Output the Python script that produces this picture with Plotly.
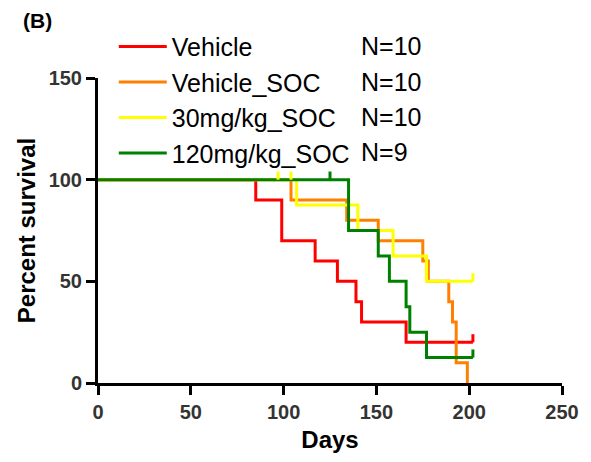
import plotly.graph_objects as go

# ---- data ----
groups = ["Vehicle", "Vehicle_SOC", "30mg/kg_SOC", "120mg/kg_SOC"]
n_counts = [10, 10, 10, 9]
colors = ["#FF0000", "#FF8000", "#FFFF00", "#008000"]

vehicle_days = [0, 85, 99, 117, 129, 139, 142, 166, 202]
vehicle_surv = [100, 90, 70, 60, 50, 40, 30, 20, 20]
vehicle_cens_days = [202]
vehicle_cens_surv = [20]

vsoc_days = [0, 104, 134, 151, 175, 178, 189, 191, 193, 199]
vsoc_surv = [100, 90, 80, 70, 60, 50, 40, 30, 10, 0]
vsoc_cens_days = []
vsoc_cens_surv = []

soc30_days = [0, 107, 140, 159, 177, 202]
soc30_surv = [100, 87.5, 75, 62.5, 50, 50]
soc30_cens_days = [97, 104, 202]
soc30_cens_surv = [100, 100, 50]

soc120_days = [0, 135, 151, 157, 166, 168, 177, 202]
soc120_surv = [100, 75, 62.5, 50, 37.5, 25, 12.5, 12.5]
soc120_cens_days = [125, 202]
soc120_cens_surv = [100, 12.5]

x_ticks = [0, 50, 100, 150, 200, 250]
y_ticks = [0, 50, 100, 150]

series = [
    (vehicle_days, vehicle_surv, vehicle_cens_days, vehicle_cens_surv),
    (vsoc_days, vsoc_surv, vsoc_cens_days, vsoc_cens_surv),
    (soc30_days, soc30_surv, soc30_cens_days, soc30_cens_surv),
    (soc120_days, soc120_surv, soc120_cens_days, soc120_cens_surv),
]

FONT = "Liberation Sans, Arial, sans-serif"
LW = 3
CENSOR_LEN = 4  # length of the censor tick, in percent units

fig = go.Figure()
for i, (name, color, (d, s, cd, cs)) in enumerate(zip(groups, colors, series)):
    fig.add_trace(go.Scatter(
        x=d, y=s, mode="lines", name=name,
        line=dict(color=color, width=LW, shape="hv"),
        legendgroup=f"g{i}", cliponaxis=False,
    ))
for i, (name, color, (d, s, cd, cs)) in enumerate(zip(groups, colors, series)):
    if cd:
        fig.add_trace(go.Scatter(
            x=cd, y=cs, mode="markers", showlegend=False,
            marker=dict(size=0.1, color="rgba(0,0,0,0)"),
            error_y=dict(type="constant", value=CENSOR_LEN, valueminus=0,
                         symmetric=False, thickness=LW, width=0, color=color),
            legendgroup=f"g{i}", cliponaxis=False,
        ))

# N= column next to the legend (paper coords)
legend_rows_y = [1.104, 0.987, 0.873, 0.756]
for n, yy in zip(n_counts, legend_rows_y):
    fig.add_annotation(text=f"N={n}", xref="paper", yref="paper",
                       x=0.563, y=yy, xanchor="left", yanchor="middle",
                       showarrow=False, font=dict(family=FONT, size=25, color="black"))

fig.add_annotation(text="(B)", xref="paper", yref="paper", x=-0.165, y=1.187,
                   xanchor="left", yanchor="middle", showarrow=False,
                   font=dict(family=FONT, size=21, color="black", weight="bold"))

axis_common = dict(
    showline=True, linecolor="black", linewidth=3,
    ticks="outside", ticklen=9, tickwidth=3, tickcolor="black",
    showgrid=False, zeroline=False,
    tickfont=dict(family=FONT, size=20, color="#333333", weight="bold"),
)
fig.update_xaxes(range=[0, 250], tickvals=x_ticks,
                 title=dict(text="Days", standoff=10,
                            font=dict(family=FONT, size=24, color="black", weight="bold")),
                 **axis_common)
fig.update_yaxes(range=[0, 150], tickvals=y_ticks,
                 title=dict(text="Percent survival", standoff=7,
                            font=dict(family=FONT, size=24, color="black", weight="bold")),
                 **axis_common)

fig.update_layout(
    width=583, height=454,
    margin=dict(l=90, r=29, t=70, b=77),
    plot_bgcolor="white", paper_bgcolor="white",
    legend=dict(x=0.034, y=1.178, xanchor="left", yanchor="top",
                font=dict(family=FONT, size=25, color="black"),
                bgcolor="rgba(0,0,0,0)", tracegroupgap=0, traceorder="grouped",
                itemwidth=48),
)

fig.write_html("out.html")
